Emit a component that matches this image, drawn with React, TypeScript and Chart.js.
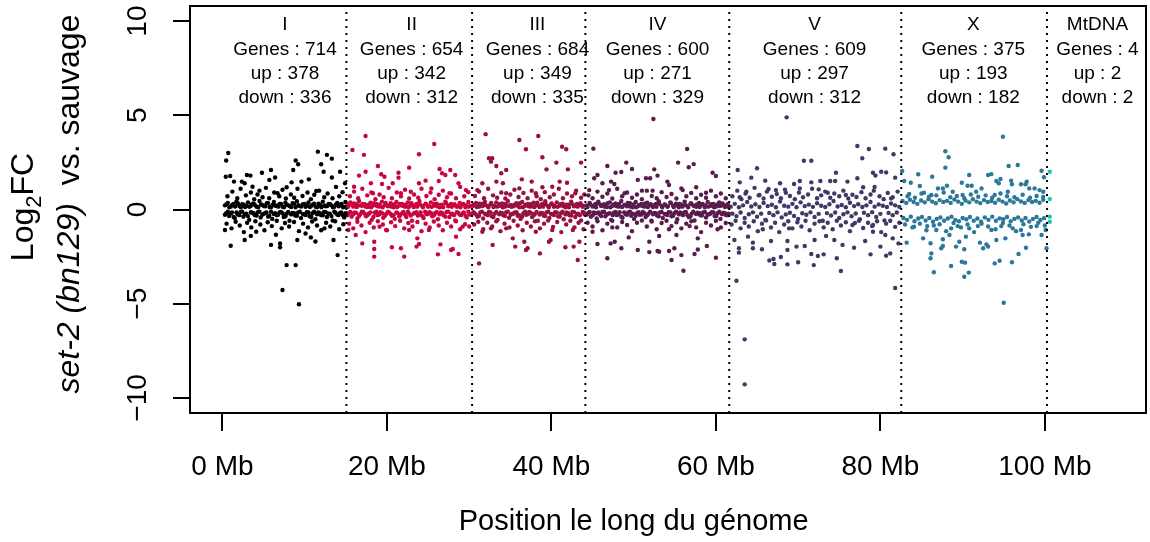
import React, { useEffect, useRef } from 'react';
import { Chart, registerables } from 'chart.js';

Chart.register(...registerables);

const FONT = '"Liberation Sans", Arial, Helvetica, sans-serif';

// ---- chromosome annotations ----
const CHR_NAMES = ['I', 'II', 'III', 'IV', 'V', 'X', 'MtDNA'];
const CHR_ENDS = [15.07, 30.35, 44.13, 61.62, 82.54, 100.26];
const LABEL_POS = [7.6, 23.0, 38.3, 52.9, 72.0, 91.3, 106.4];
const GENES = [714, 654, 684, 600, 609, 375, 4];
const UP = [378, 342, 349, 271, 297, 193, 2];
const DOWN = [336, 312, 335, 329, 312, 182, 2];
const COLORS = ['#000000', '#C8063E', '#981041', '#581B4C', '#3D3A66', '#2B7898', '#1DC6B2'];
const ANNOT_Y = [9.53, 8.2, 6.93, 5.65];

// ---- axes ----
const X_TICKS = [0, 20, 40, 60, 80, 100];
const Y_TICKS = [-10, -5, 0, 5, 10];
const X_MIN = -3.95;
const X_MAX = 112.3;
const Y_MIN = -10.8;
const Y_MAX = 10.8;
const X_TITLE = 'Position le long du génome';

// ---- points: [position (Mb), log2FC] ----
const CHR_I: [number, number][] = [
  [0.7, 3.0], [0.45, 2.6], [11.6, 3.07], [12.7, 2.9], [13.3, 2.7], [8.9, 2.6], [9.2, 2.4], [12.0, 2.4], [12.3, 2.0], [8.6, 2.1],
  [5.9, 2.1], [4.8, 1.95], [2.97, 1.83], [3.4, 1.8], [0.94, 1.78], [0.4, 1.74], [6.4, 1.7], [5.7, 1.57], [1.4, 1.48], [2.36, 1.48],
  [2.7, 1.39], [3.65, 1.21], [10.5, 1.6], [9.6, 1.48], [8.4, 1.44], [7.8, 1.18], [13.3, 1.7], [14.3, 2.0], [14.9, 1.39], [11.4, 0.98],
  [6.7, 0.86], [4.5, 1.0],
  [0.3, -1.09], [1.0, -1.92], [5.9, -1.88], [7.0, -1.8], [7.0, -2.0], [7.8, -2.95], [8.9, -2.95], [7.3, -4.27], [9.3, -5.03], [9.1, -1.62],
  [13.5, -1.62], [11.3, -1.7], [14.0, -2.42], [2.7, -1.62], [3.45, -1.4], [4.1, -1.18], [6.5, -1.34], [10.1, -1.27], [12.4, -1.0], [10.75, -1.48],
  [0.6, 0.7], [1.2, 0.95], [1.8, 0.6], [2.2, 1.1], [2.85, 0.75], [3.45, 0.9], [3.86, 0.55], [4.26, 0.8], [4.87, 0.65], [5.28, 1.15],
  [5.68, 0.6], [6.29, 0.9], [6.9, 0.7], [7.3, 1.05], [7.71, 0.58], [8.32, 0.8], [8.72, 0.62], [9.12, 1.1], [9.73, 0.72], [10.34, 0.9],
  [10.75, 0.55], [11.16, 0.78], [11.76, 1.0], [12.37, 0.65], [12.78, 0.85], [13.38, 0.6], [13.8, 1.2], [14.2, 0.7], [14.6, 0.92],
  [0.5, -0.75], [1.1, -1.0], [1.6, -0.65], [2.1, -0.85], [2.6, -1.2], [3.0, -0.7], [3.5, -0.95], [4.0, -0.62], [4.6, -0.8], [5.1, -1.1],
  [5.5, -0.68], [6.0, -0.88], [6.6, -0.6], [7.2, -1.0], [7.6, -0.72], [8.1, -0.9], [8.7, -0.66], [9.3, -1.15], [9.8, -0.75], [10.4, -0.95],
  [10.9, -0.64], [11.5, -0.85], [12.0, -1.1], [12.6, -0.7], [13.1, -0.9], [13.7, -0.62], [14.2, -1.05], [14.7, -0.78],
  [0.3, 0.22], [0.65, 0.35], [1.0, 0.15], [1.35, 0.3], [1.7, 0.42], [2.05, 0.18], [2.4, 0.28], [2.75, 0.13], [3.1, 0.38], [3.45, 0.2],
  [3.8, 0.32], [4.15, 0.15], [4.5, 0.45], [4.85, 0.24], [5.2, 0.17], [5.55, 0.34], [5.9, 0.12], [6.25, 0.4], [6.6, 0.2], [6.95, 0.3],
  [7.3, 0.15], [7.65, 0.36], [8.0, 0.22], [8.35, 0.13], [8.7, 0.3], [9.05, 0.44], [9.4, 0.18], [9.75, 0.27], [10.1, 0.14], [10.45, 0.38],
  [10.8, 0.2], [11.15, 0.31], [11.5, 0.12], [11.85, 0.25], [12.2, 0.42], [12.55, 0.17], [12.9, 0.3], [13.25, 0.22], [13.6, 0.14], [13.95, 0.35],
  [14.3, 0.25], [14.65, 0.12], [14.95, 0.4],
  [0.45, -0.2], [0.8, -0.35], [1.15, -0.15], [1.5, -0.45], [1.85, -0.25], [2.2, -0.13], [2.55, -0.38], [2.9, -0.22], [3.25, -0.55], [3.6, -0.17],
  [3.95, -0.3], [4.3, -0.14], [4.65, -0.42], [5.0, -0.24], [5.35, -0.16], [5.7, -0.33], [6.05, -0.5], [6.4, -0.2], [6.75, -0.28], [7.1, -0.13],
  [7.45, -0.4], [7.8, -0.22], [8.15, -0.6], [8.5, -0.18], [8.85, -0.32], [9.2, -0.15], [9.55, -0.45], [9.9, -0.25], [10.25, -0.14], [10.6, -0.36],
  [10.95, -0.2], [11.3, -0.52], [11.65, -0.16], [12.0, -0.3], [12.35, -0.13], [12.7, -0.4], [13.05, -0.22], [13.4, -0.58], [13.75, -0.17], [14.1, -0.3],
  [14.45, -0.15], [14.8, -0.42],
];

const BAND_I: [number, number][] = [
  [0.48, 0.28], [0.83, 0.12], [1.18, 0.24], [1.53, 0.16], [1.88, 0.32], [2.23, 0.12], [2.58, 0.26], [2.93, 0.19], [3.28, 0.14], [3.63, 0.3],
  [3.98, 0.22], [4.33, 0.12], [4.68, 0.27], [5.03, 0.18], [5.38, 0.33], [5.73, 0.13], [6.08, 0.24], [6.43, 0.2], [6.78, 0.15], [7.13, 0.29],
  [7.48, 0.12], [7.83, 0.25], [8.18, 0.18], [8.53, 0.34], [8.88, 0.12], [9.23, 0.23], [9.58, 0.16], [9.93, 0.3], [10.28, 0.2], [10.63, 0.13],
  [10.98, 0.26], [11.33, 0.15], [11.68, 0.31], [12.03, 0.12], [12.38, 0.22], [12.73, 0.18], [13.08, 0.28], [13.43, 0.12], [13.78, 0.25], [14.13, 0.17],
  [14.48, 0.3], [14.83, 0.14],
  [0.3, -0.28], [0.65, -0.12], [1.0, -0.22], [1.35, -0.4], [1.7, -0.16], [2.05, -0.3], [2.4, -0.12], [2.75, -0.25], [3.1, -0.35], [3.45, -0.14],
  [3.8, -0.2], [4.15, -0.32], [4.5, -0.12], [4.85, -0.27], [5.2, -0.18], [5.55, -0.38], [5.9, -0.12], [6.25, -0.24], [6.6, -0.3], [6.95, -0.15],
  [7.3, -0.2], [7.65, -0.36], [8.0, -0.13], [8.35, -0.26], [8.7, -0.19], [9.05, -0.33], [9.4, -0.12], [9.75, -0.23], [10.1, -0.29], [10.45, -0.16],
  [10.8, -0.4], [11.15, -0.12], [11.5, -0.25], [11.85, -0.2], [12.2, -0.31], [12.55, -0.14], [12.9, -0.22], [13.25, -0.35], [13.6, -0.12], [13.95, -0.27],
  [14.3, -0.18], [14.65, -0.3], [14.98, -0.2],
];

const CHR_II: [number, number][] = [
  [17.4, 3.9], [15.8, 3.16], [17.2, 2.9], [25.75, 3.48], [23.9, 2.93], [18.9, 2.31], [22.7, 2.22], [19.3, 1.87], [19.7, 1.74], [17.4, 2.0],
  [16.6, 1.8], [21.4, 1.95], [21.4, 1.69], [26.4, 2.15], [27.7, 2.1], [26.7, 1.92], [27.1, 1.83], [28.3, 1.83], [24.7, 1.53], [23.9, 1.39],
  [26.3, 1.51], [28.7, 1.39], [19.4, 1.35], [20.7, 1.39], [18.05, 1.39], [16.0, 1.21], [22.9, 0.94], [25.4, 1.12], [29.6, 1.03], [27.6, 0.86],
  [18.3, 0.86], [21.7, 0.86],
  [18.45, -1.71], [18.45, -2.1], [18.45, -2.5], [20.6, -2.0], [21.7, -2.06], [22.1, -2.5], [23.7, -1.53], [23.9, -1.83], [26.2, -2.38], [27.8, -2.15],
  [28.0, -2.1], [26.5, -1.85], [17.0, -1.8], [16.2, -1.35], [19.9, -1.09], [19.1, -0.91], [22.7, -1.09], [25.1, -1.09], [29.2, -0.91], [28.4, -1.44],
  [23.6, -1.97], [28.7, -2.36], [15.3, -1.09],
  [15.5, 0.7], [16.0, 0.95], [16.5, 0.6], [17.0, 1.1], [17.6, 0.75], [18.1, 0.9], [18.6, 0.55], [19.1, 0.8], [19.6, 0.65], [20.2, 1.15],
  [20.6, 0.6], [21.2, 0.9], [21.7, 0.7], [22.2, 1.05], [22.7, 0.58], [23.3, 0.8], [23.8, 0.62], [24.2, 1.1], [24.8, 0.72], [25.3, 0.9],
  [25.8, 0.55], [26.3, 0.78], [26.8, 1.0], [27.3, 0.65], [27.8, 0.85], [28.4, 0.6], [28.9, 1.2], [29.4, 0.7], [29.9, 0.92],
  [15.4, -0.75], [15.9, -1.0], [16.4, -0.65], [16.9, -0.85], [17.4, -1.2], [17.9, -0.7], [18.4, -0.95], [18.9, -0.62], [19.5, -0.8], [20.0, -1.1],
  [20.5, -0.68], [21.0, -0.88], [21.6, -0.6], [22.1, -1.0], [22.6, -0.72], [23.1, -0.9], [23.7, -0.66], [24.2, -1.15], [24.7, -0.75], [25.2, -0.95],
  [25.7, -0.64], [26.3, -0.85], [26.8, -1.1], [27.3, -0.7], [27.8, -0.9], [28.4, -0.62], [28.9, -1.05], [29.5, -0.78], [30.0, -0.9],
  [15.2, 0.25], [15.55, 0.38], [15.9, 0.15], [16.25, 0.3], [16.6, 0.45], [16.95, 0.2], [17.3, 0.28], [17.65, 0.13], [18.0, 0.36], [18.35, 0.22],
  [18.7, 0.3], [19.05, 0.15], [19.4, 0.42], [19.75, 0.24], [20.1, 0.17], [20.45, 0.33], [20.8, 0.12], [21.15, 0.4], [21.5, 0.21], [21.85, 0.3],
  [22.2, 0.14], [22.55, 0.37], [22.9, 0.22], [23.25, 0.13], [23.6, 0.3], [23.95, 0.45], [24.3, 0.18], [24.65, 0.27], [25.0, 0.14], [25.35, 0.38],
  [25.7, 0.2], [26.05, 0.31], [26.4, 0.12], [26.75, 0.25], [27.1, 0.42], [27.45, 0.17], [27.8, 0.3], [28.15, 0.22], [28.5, 0.14], [28.85, 0.35],
  [29.2, 0.25], [29.55, 0.12], [29.9, 0.4], [30.2, 0.2],
  [15.35, -0.2], [15.7, -0.38], [16.05, -0.15], [16.4, -0.48], [16.75, -0.25], [17.1, -0.13], [17.45, -0.36], [17.8, -0.22], [18.15, -0.55], [18.5, -0.17],
  [18.85, -0.3], [19.2, -0.14], [19.55, -0.44], [19.9, -0.24], [20.25, -0.16], [20.6, -0.33], [20.95, -0.5], [21.3, -0.2], [21.65, -0.28], [22.0, -0.13],
  [22.35, -0.4], [22.7, -0.22], [23.05, -0.6], [23.4, -0.18], [23.75, -0.32], [24.1, -0.15], [24.45, -0.45], [24.8, -0.25], [25.15, -0.14], [25.5, -0.36],
  [25.85, -0.2], [26.2, -0.52], [26.55, -0.16], [26.9, -0.3], [27.25, -0.13], [27.6, -0.4], [27.95, -0.22], [28.3, -0.58], [28.65, -0.17], [29.0, -0.3],
  [29.35, -0.15], [29.7, -0.42], [30.05, -0.25],
];

const BAND_II: [number, number][] = [
  [15.28, 0.14], [15.63, 0.26], [15.98, 0.32], [16.33, 0.13], [16.68, 0.22], [17.03, 0.3], [17.38, 0.16], [17.73, 0.25], [18.08, 0.12], [18.43, 0.33],
  [18.78, 0.18], [19.13, 0.27], [19.48, 0.12], [19.83, 0.35], [20.18, 0.21], [20.53, 0.15], [20.88, 0.28], [21.23, 0.13], [21.58, 0.3], [21.93, 0.19],
  [22.28, 0.25], [22.63, 0.12], [22.98, 0.34], [23.33, 0.22], [23.68, 0.15], [24.03, 0.27], [24.38, 0.12], [24.73, 0.31], [25.08, 0.2], [25.43, 0.14],
  [25.78, 0.29], [26.13, 0.17], [26.48, 0.24], [26.83, 0.12], [27.18, 0.33], [27.53, 0.21], [27.88, 0.14], [28.23, 0.28], [28.58, 0.19], [28.93, 0.12],
  [29.28, 0.3], [29.63, 0.22], [29.98, 0.15],
  [15.2, -0.3], [15.55, -0.13], [15.9, -0.25], [16.25, -0.18], [16.6, -0.34], [16.95, -0.12], [17.3, -0.22], [17.65, -0.29], [18.0, -0.15], [18.35, -0.4],
  [18.7, -0.12], [19.05, -0.26], [19.4, -0.2], [19.75, -0.33], [20.1, -0.13], [20.45, -0.23], [20.8, -0.3], [21.15, -0.15], [21.5, -0.37], [21.85, -0.19],
  [22.2, -0.27], [22.55, -0.12], [22.9, -0.32], [23.25, -0.21], [23.6, -0.14], [23.95, -0.28], [24.3, -0.35], [24.65, -0.12], [25.0, -0.24], [25.35, -0.18],
  [25.7, -0.31], [26.05, -0.13], [26.4, -0.26], [26.75, -0.2], [27.1, -0.38], [27.45, -0.12], [27.8, -0.23], [28.15, -0.3], [28.5, -0.14], [28.85, -0.27],
  [29.2, -0.19], [29.55, -0.33], [29.9, -0.12], [30.25, -0.28],
];

const CHR_III: [number, number][] = [
  [32.0, 4.0], [36.1, 3.69], [38.4, 3.9], [36.9, 3.2], [41.3, 3.33], [41.8, 3.2], [32.4, 2.72], [32.8, 2.72], [32.65, 2.54], [38.9, 2.77],
  [40.6, 2.49], [43.6, 2.49], [33.3, 2.31], [34.5, 2.1], [33.9, 1.92], [39.4, 2.13], [42.0, 2.13], [36.4, 1.6], [37.6, 1.48], [33.3, 1.48],
  [34.1, 1.39], [41.0, 1.48], [41.9, 1.42], [38.9, 1.18], [40.1, 1.21], [31.6, 1.39], [31.0, 1.03], [36.1, 1.12], [42.9, 0.86], [38.1, 0.86],
  [34.5, 0.86],
  [31.2, -2.86], [32.85, -1.88], [32.65, -1.0], [31.6, -1.18], [35.3, -1.53], [36.7, -1.71], [37.1, -2.06], [35.6, -1.97], [36.9, -2.15], [38.6, -2.33],
  [39.7, -1.71], [41.7, -2.0], [42.7, -1.97], [43.2, -2.68], [39.9, -1.62], [40.1, -1.09], [42.6, -1.09], [38.1, -1.18], [34.5, -1.0], [43.4, -1.71],
  [30.7, 0.72], [31.2, 0.95], [31.8, 0.6], [32.3, 1.1], [32.9, 0.75], [33.4, 0.62], [33.9, 0.9], [34.4, 0.58], [35.0, 0.8], [35.5, 1.05],
  [36.0, 0.66], [36.6, 0.88], [37.1, 0.6], [37.6, 1.0], [38.2, 0.7], [38.7, 0.55], [39.2, 0.92], [39.8, 0.65], [40.3, 0.8], [40.9, 1.1],
  [41.4, 0.6], [41.9, 0.85], [42.5, 0.7], [43.0, 1.0], [43.6, 0.62], [44.0, 0.8],
  [30.6, -0.8], [31.1, -0.65], [31.7, -1.05], [32.2, -0.7], [32.8, -0.9], [33.3, -0.62], [33.8, -1.15], [34.3, -0.75], [34.9, -0.95], [35.4, -0.6],
  [35.9, -0.85], [36.5, -1.1], [37.0, -0.7], [37.5, -0.9], [38.0, -0.62], [38.6, -1.0], [39.1, -0.75], [39.6, -0.58], [40.2, -0.92], [40.7, -0.66],
  [41.2, -1.2], [41.8, -0.8], [42.3, -0.6], [42.8, -0.95], [43.3, -0.7], [43.9, -1.05],
  [30.5, 0.2], [30.85, 0.35], [31.2, 0.15], [31.55, 0.3], [31.9, 0.42], [32.25, 0.18], [32.6, 0.28], [32.95, 0.13], [33.3, 0.38], [33.65, 0.2],
  [34.0, 0.32], [34.35, 0.15], [34.7, 0.45], [35.05, 0.24], [35.4, 0.17], [35.75, 0.34], [36.1, 0.12], [36.45, 0.4], [36.8, 0.2], [37.15, 0.3],
  [37.5, 0.15], [37.85, 0.36], [38.2, 0.22], [38.55, 0.13], [38.9, 0.3], [39.25, 0.44], [39.6, 0.18], [39.95, 0.27], [40.3, 0.14], [40.65, 0.38],
  [41.0, 0.2], [41.35, 0.31], [41.7, 0.12], [42.05, 0.25], [42.4, 0.42], [42.75, 0.17], [43.1, 0.3], [43.45, 0.22], [43.8, 0.14],
  [30.65, -0.2], [31.0, -0.38], [31.35, -0.15], [31.7, -0.48], [32.05, -0.25], [32.4, -0.13], [32.75, -0.36], [33.1, -0.22], [33.45, -0.55], [33.8, -0.17],
  [34.15, -0.3], [34.5, -0.14], [34.85, -0.44], [35.2, -0.24], [35.55, -0.16], [35.9, -0.33], [36.25, -0.5], [36.6, -0.2], [36.95, -0.28], [37.3, -0.13],
  [37.65, -0.4], [38.0, -0.22], [38.35, -0.6], [38.7, -0.18], [39.05, -0.32], [39.4, -0.15], [39.75, -0.45], [40.1, -0.25], [40.45, -0.14], [40.8, -0.36],
  [41.15, -0.2], [41.5, -0.52], [41.85, -0.16], [42.2, -0.3], [42.55, -0.13], [42.9, -0.4], [43.25, -0.22], [43.6, -0.58], [43.95, -0.17],
];

const BAND_III: [number, number][] = [
  [30.58, 0.27], [30.93, 0.13], [31.28, 0.31], [31.63, 0.18], [31.98, 0.24], [32.33, 0.12], [32.68, 0.35], [33.03, 0.2], [33.38, 0.15], [33.73, 0.28],
  [34.08, 0.12], [34.43, 0.3], [34.78, 0.19], [35.13, 0.14], [35.48, 0.26], [35.83, 0.21], [36.18, 0.33], [36.53, 0.12], [36.88, 0.25], [37.23, 0.17],
  [37.58, 0.29], [37.93, 0.13], [38.28, 0.36], [38.63, 0.22], [38.98, 0.15], [39.33, 0.27], [39.68, 0.12], [40.03, 0.32], [40.38, 0.2], [40.73, 0.14],
  [41.08, 0.28], [41.43, 0.18], [41.78, 0.25], [42.13, 0.12], [42.48, 0.3], [42.83, 0.21], [43.18, 0.15], [43.53, 0.33], [43.88, 0.2],
  [30.5, -0.14], [30.85, -0.27], [31.2, -0.33], [31.55, -0.12], [31.9, -0.22], [32.25, -0.3], [32.6, -0.16], [32.95, -0.4], [33.3, -0.13], [33.65, -0.25],
  [34.0, -0.19], [34.35, -0.34], [34.7, -0.12], [35.05, -0.28], [35.4, -0.21], [35.75, -0.14], [36.1, -0.3], [36.45, -0.37], [36.8, -0.12], [37.15, -0.24],
  [37.5, -0.18], [37.85, -0.31], [38.2, -0.13], [38.55, -0.27], [38.9, -0.2], [39.25, -0.35], [39.6, -0.12], [39.95, -0.23], [40.3, -0.29], [40.65, -0.15],
  [41.0, -0.38], [41.35, -0.12], [41.7, -0.26], [42.05, -0.19], [42.4, -0.32], [42.75, -0.14], [43.1, -0.24], [43.45, -0.3], [43.8, -0.13], [44.05, -0.26],
];

const CHR_IV: [number, number][] = [
  [52.4, 4.8], [45.1, 3.23], [56.5, 3.21], [49.1, 2.49], [55.4, 2.49], [57.3, 2.41], [46.8, 2.31], [49.8, 2.15], [52.5, 2.13], [56.7, 2.24],
  [59.6, 1.95], [60.0, 1.78], [45.2, 1.66], [45.6, 1.83], [47.8, 1.95], [48.5, 1.99], [51.5, 1.66], [52.0, 1.66], [52.9, 1.8], [50.5, 1.57],
  [47.25, 1.48], [47.65, 1.35], [46.2, 1.39], [54.1, 1.48], [54.3, 1.3], [57.6, 1.18], [47.0, 1.03], [51.0, 1.0], [52.3, 1.0], [55.96, 1.03],
  [58.8, 0.89], [48.9, 0.86], [44.6, 1.03],
  [46.8, -2.59], [56.05, -3.25], [50.5, -2.15], [51.9, -2.26], [52.9, -2.2], [54.3, -2.2], [55.8, -2.42], [57.4, -2.36], [60.0, -2.56], [48.5, -2.06],
  [47.2, -1.8], [45.6, -1.83], [49.4, -1.48], [53.1, -1.41], [55.2, -1.35], [57.8, -1.53], [58.9, -1.94], [51.9, -1.71], [47.4, -0.95], [60.2, -1.05],
  [45.0, -1.18], [54.3, -1.05], [56.8, -0.88], [47.7, -1.71], [54.95, -2.06], [54.6, -2.68], [57.8, -2.12], [53.1, -2.24],
  [44.5, 0.75], [45.0, 0.6], [45.6, 0.95], [46.2, 0.68], [46.8, 0.85], [47.4, 0.58], [48.0, 1.1], [48.6, 0.7], [49.2, 0.9], [49.8, 0.62],
  [50.4, 0.8], [51.0, 0.55], [51.6, 1.0], [52.2, 0.72], [52.8, 0.6], [53.4, 0.92], [54.0, 0.66], [54.6, 0.82], [55.2, 0.58], [55.8, 1.12],
  [56.4, 0.7], [57.0, 0.88], [57.6, 0.6], [58.2, 0.78], [58.8, 0.62], [59.4, 1.0], [60.0, 0.7], [60.6, 0.85], [61.2, 0.6],
  [44.4, -0.7], [45.0, -0.9], [45.6, -0.62], [46.2, -1.1], [46.8, -0.75], [47.4, -0.6], [48.0, -0.95], [48.6, -0.66], [49.2, -0.82], [49.8, -1.15],
  [50.4, -0.7], [51.0, -0.58], [51.6, -0.9], [52.2, -0.64], [52.8, -1.05], [53.4, -0.72], [54.0, -0.6], [54.6, -0.88], [55.2, -0.68], [55.8, -1.0],
  [56.4, -0.75], [57.0, -0.62], [57.6, -0.95], [58.2, -1.2], [58.8, -0.7], [59.4, -0.85], [60.0, -0.6], [60.6, -0.95], [61.2, -0.72],
  [44.3, 0.22], [44.65, 0.35], [45.0, 0.15], [45.35, 0.3], [45.7, 0.42], [46.05, 0.18], [46.4, 0.28], [46.75, 0.13], [47.1, 0.38], [47.45, 0.2],
  [47.8, 0.32], [48.15, 0.15], [48.5, 0.45], [48.85, 0.24], [49.2, 0.17], [49.55, 0.34], [49.9, 0.12], [50.25, 0.4], [50.6, 0.2], [50.95, 0.3],
  [51.3, 0.15], [51.65, 0.36], [52.0, 0.22], [52.35, 0.13], [52.7, 0.3], [53.05, 0.44], [53.4, 0.18], [53.75, 0.27], [54.1, 0.14], [54.45, 0.38],
  [54.8, 0.2], [55.15, 0.31], [55.5, 0.12], [55.85, 0.25], [56.2, 0.42], [56.55, 0.17], [56.9, 0.3], [57.25, 0.22], [57.6, 0.14], [57.95, 0.35],
  [58.3, 0.25], [58.65, 0.12], [59.0, 0.4], [59.35, 0.2], [59.7, 0.3], [60.05, 0.16], [60.4, 0.38], [60.75, 0.22], [61.1, 0.13], [61.45, 0.3],
  [44.45, -0.2], [44.8, -0.38], [45.15, -0.15], [45.5, -0.48], [45.85, -0.25], [46.2, -0.13], [46.55, -0.36], [46.9, -0.22], [47.25, -0.55], [47.6, -0.17],
  [47.95, -0.3], [48.3, -0.14], [48.65, -0.44], [49.0, -0.24], [49.35, -0.16], [49.7, -0.33], [50.05, -0.5], [50.4, -0.2], [50.75, -0.28], [51.1, -0.13],
  [51.45, -0.4], [51.8, -0.22], [52.15, -0.6], [52.5, -0.18], [52.85, -0.32], [53.2, -0.15], [53.55, -0.45], [53.9, -0.25], [54.25, -0.14], [54.6, -0.36],
  [54.95, -0.2], [55.3, -0.52], [55.65, -0.16], [56.0, -0.3], [56.35, -0.13], [56.7, -0.4], [57.05, -0.22], [57.4, -0.58], [57.75, -0.17], [58.1, -0.3],
  [58.45, -0.15], [58.8, -0.42], [59.15, -0.25], [59.5, -0.14], [59.85, -0.35], [60.2, -0.2], [60.55, -0.5], [60.9, -0.17], [61.25, -0.3], [61.55, -0.22],
];

const BAND_IV: [number, number][] = [
  [44.38, 0.13], [44.73, 0.27], [45.08, 0.2], [45.43, 0.12], [45.78, 0.31], [46.13, 0.24], [46.48, 0.15], [46.83, 0.33], [47.18, 0.12], [47.53, 0.26],
  [47.88, 0.18], [48.23, 0.3], [48.58, 0.13], [48.93, 0.22], [49.28, 0.35], [49.63, 0.15], [49.98, 0.27], [50.33, 0.12], [50.68, 0.24], [51.03, 0.19],
  [51.38, 0.32], [51.73, 0.13], [52.08, 0.28], [52.43, 0.21], [52.78, 0.14], [53.13, 0.3], [53.48, 0.12], [53.83, 0.25], [54.18, 0.18], [54.53, 0.34],
  [54.88, 0.13], [55.23, 0.22], [55.58, 0.29], [55.93, 0.15], [56.28, 0.24], [56.63, 0.12], [56.98, 0.33], [57.33, 0.19], [57.68, 0.27], [58.03, 0.13],
  [58.38, 0.3], [58.73, 0.21], [59.08, 0.15], [59.43, 0.28], [59.78, 0.12], [60.13, 0.25], [60.48, 0.18], [60.83, 0.32], [61.18, 0.2], [61.5, 0.14],
  [44.3, -0.27], [44.65, -0.13], [45.0, -0.31], [45.35, -0.2], [45.7, -0.15], [46.05, -0.35], [46.4, -0.12], [46.75, -0.26], [47.1, -0.19], [47.45, -0.3],
  [47.8, -0.13], [48.15, -0.24], [48.5, -0.38], [48.85, -0.15], [49.2, -0.28], [49.55, -0.12], [49.9, -0.22], [50.25, -0.33], [50.6, -0.14], [50.95, -0.27],
  [51.3, -0.19], [51.65, -0.31], [52.0, -0.12], [52.35, -0.25], [52.7, -0.2], [53.05, -0.36], [53.4, -0.13], [53.75, -0.23], [54.1, -0.29], [54.45, -0.15],
  [54.8, -0.33], [55.15, -0.12], [55.5, -0.26], [55.85, -0.2], [56.2, -0.14], [56.55, -0.3], [56.9, -0.37], [57.25, -0.12], [57.6, -0.24], [57.95, -0.18],
  [58.3, -0.32], [58.65, -0.13], [59.0, -0.27], [59.35, -0.21], [59.7, -0.15], [60.05, -0.34], [60.4, -0.12], [60.75, -0.25], [61.1, -0.19], [61.45, -0.3],
];

const CHR_V: [number, number][] = [
  [68.6, 4.89], [77.2, 3.37], [78.6, 3.21], [80.6, 3.23], [77.8, 2.72], [81.6, 2.93], [70.7, 2.59], [71.6, 2.59], [62.65, 2.1], [65.0, 2.19],
  [64.3, 1.69], [66.0, 1.53], [74.6, 1.95], [79.1, 1.95], [80.1, 2.0], [80.7, 1.97], [79.4, 1.8], [77.2, 1.66], [70.2, 1.51], [71.6, 1.44],
  [73.9, 1.51], [74.5, 1.51], [72.7, 1.51], [76.0, 1.48], [81.8, 1.69], [62.9, 1.44], [67.8, 1.39], [69.5, 1.35], [70.2, 1.12], [77.9, 1.18],
  [66.4, 1.09], [67.3, 1.03], [68.5, 0.89], [72.5, 1.07], [63.7, 0.94], [79.2, 1.0], [81.3, 0.59], [75.8, 0.77], [65.3, 0.77], [62.9, 0.65],
  [73.6, 0.89],
  [63.5, -6.89], [63.5, -9.28], [62.5, -3.78], [81.8, -4.17], [75.2, -3.26], [66.5, -2.71], [67.0, -2.63], [67.1, -2.89], [67.9, -2.52], [68.7, -2.91],
  [70.0, -2.8], [71.9, -2.95], [71.6, -2.36], [72.4, -2.47], [73.1, -2.38], [74.7, -2.59], [80.7, -2.45], [81.2, -2.33], [78.8, -2.38], [62.8, -2.29],
  [62.8, -2.06], [64.5, -2.06], [65.6, -2.11], [68.7, -2.15], [69.8, -1.97], [68.7, -1.67], [66.7, -1.67], [62.25, -1.62], [64.5, -1.76], [74.4, -1.62],
  [75.4, -1.88], [76.8, -2.03], [78.15, -1.67], [80.0, -1.97], [81.5, -1.53], [82.2, -1.8], [70.8, -1.94], [72.0, -1.62], [63.9, -1.44], [65.7, -1.05],
  [68.9, -1.0], [73.4, -1.41], [76.6, -0.82], [79.1, -0.82], [79.1, -1.18], [80.6, -1.35],
  [62.0, 0.7], [62.6, 1.0], [63.1, 0.55], [63.6, 0.85], [64.1, 0.62], [64.7, 1.15], [65.2, 0.75], [65.8, 0.58], [66.2, 0.95], [66.8, 0.68],
  [67.4, 0.82], [67.9, 0.6], [68.4, 1.05], [69.0, 0.72], [69.6, 0.55], [70.1, 0.9], [70.6, 0.65], [71.2, 0.8], [71.7, 1.1], [72.3, 0.6],
  [72.8, 0.75], [73.3, 0.95], [73.9, 0.62], [74.4, 0.85], [75.0, 0.7], [75.5, 1.0], [76.1, 0.58], [76.6, 0.78], [77.1, 0.66], [77.7, 0.92],
  [78.2, 0.6], [78.8, 0.8], [79.3, 1.2], [79.9, 0.7], [80.4, 0.55], [80.9, 0.88], [81.5, 0.65], [82.1, 0.95],
  [61.9, -0.8], [62.4, -0.6], [63.0, -1.0], [63.5, -0.7], [64.0, -0.9], [64.6, -0.62], [65.1, -1.15], [65.6, -0.75], [66.1, -0.58], [66.7, -0.95],
  [67.2, -0.7], [67.7, -1.2], [68.3, -0.8], [68.8, -0.62], [69.3, -1.0], [69.9, -0.68], [70.4, -0.9], [70.9, -0.6], [71.4, -1.1], [72.0, -0.75],
  [72.6, -0.62], [73.1, -0.95], [73.6, -0.7], [74.2, -1.05], [74.7, -0.6], [75.2, -0.85], [75.8, -0.68], [76.3, -1.15], [76.9, -0.72], [77.4, -0.6],
  [77.9, -0.98], [78.5, -0.7], [79.0, -0.88], [79.6, -0.62], [80.1, -1.2], [80.7, -0.75], [81.2, -0.6], [81.8, -0.92], [82.3, -0.7],
  [61.8, 0.15], [62.3, 0.3], [62.8, 0.12], [63.3, 0.22], [63.8, 0.4], [64.3, 0.16], [64.8, 0.28], [65.3, 0.13], [65.8, 0.35], [66.3, 0.18],
  [66.8, 0.25], [67.3, 0.12], [67.8, 0.42], [68.3, 0.2], [68.8, 0.15], [69.3, 0.3], [69.8, 0.12], [70.3, 0.38], [70.8, 0.18], [71.3, 0.26],
  [71.8, 0.14], [72.3, 0.33], [72.8, 0.2], [73.3, 0.13], [73.8, 0.28], [74.3, 0.45], [74.8, 0.16], [75.3, 0.24], [75.8, 0.12], [76.3, 0.36],
  [76.8, 0.18], [77.3, 0.28], [77.8, 0.13], [78.3, 0.22], [78.8, 0.4], [79.3, 0.15], [79.8, 0.27], [80.3, 0.2], [80.8, 0.13], [81.3, 0.32],
  [81.8, 0.22], [82.3, 0.14],
  [62.0, -0.22], [62.5, -0.35], [63.0, -0.16], [63.5, -0.45], [64.0, -0.25], [64.5, -0.15], [65.0, -0.38], [65.5, -0.22], [66.0, -0.55], [66.5, -0.18],
  [67.0, -0.3], [67.5, -0.15], [68.0, -0.42], [68.5, -0.26], [69.0, -0.17], [69.5, -0.34], [70.0, -0.5], [70.5, -0.2], [71.0, -0.28], [71.5, -0.15],
  [72.0, -0.4], [72.5, -0.23], [73.0, -0.6], [73.5, -0.19], [74.0, -0.32], [74.5, -0.16], [75.0, -0.45], [75.5, -0.25], [76.0, -0.15], [76.5, -0.36],
  [77.0, -0.21], [77.5, -0.52], [78.0, -0.17], [78.5, -0.3], [79.0, -0.14], [79.5, -0.4], [80.0, -0.23], [80.5, -0.58], [81.0, -0.18], [81.5, -0.3],
  [82.0, -0.16],
];

const CHR_X: [number, number][] = [
  [94.9, 3.86], [87.9, 3.09], [88.3, 2.77], [87.9, 2.22], [95.6, 2.31], [96.7, 2.36], [99.6, 2.06], [82.65, 2.04], [84.6, 1.87], [86.3, 1.74],
  [90.8, 1.83], [93.1, 1.83], [93.5, 1.88], [99.9, 1.71], [94.1, 1.51], [94.6, 1.62], [95.9, 1.53], [97.8, 1.48], [82.9, 1.51], [83.7, 1.42],
  [84.8, 1.25], [87.0, 1.12], [87.6, 1.12], [88.1, 1.26], [89.9, 1.42], [90.6, 1.26], [91.1, 1.26], [92.3, 1.12], [94.4, 1.39], [96.0, 1.34],
  [97.1, 1.34], [97.65, 1.34], [98.75, 1.12], [99.35, 1.03], [85.3, 0.89], [88.8, 0.94], [91.65, 0.94], [95.5, 0.94], [98.1, 1.12], [83.5, 0.82],
  [86.2, 0.77], [90.0, 0.77], [93.9, 0.77], [99.8, 0.94],
  [95.0, -4.95], [86.5, -3.33], [90.2, -3.57], [90.75, -3.35], [88.6, -3.0], [89.9, -2.77], [90.3, -2.82], [93.9, -2.86], [94.5, -2.72], [96.0, -2.8],
  [96.8, -2.36], [86.1, -2.59], [86.2, -2.33], [87.4, -2.06], [87.6, -1.94], [89.2, -1.97], [90.2, -2.11], [92.5, -2.06], [93.1, -1.97], [97.7, -2.03],
  [100.2, -2.06], [83.2, -1.76], [85.2, -1.53], [86.1, -1.79], [89.6, -1.71], [92.1, -1.76], [92.9, -1.85], [94.1, -1.62], [95.2, -1.53], [97.3, -1.35],
  [98.05, -1.32], [99.6, -1.35], [90.4, -1.44], [88.4, -1.35], [87.6, -1.58], [84.1, -0.91], [85.7, -0.88], [86.8, -1.09], [88.6, -1.0], [89.4, -0.88],
  [90.8, -1.0], [91.85, -0.88], [93.5, -1.09], [94.7, -0.88], [96.1, -1.0], [97.1, -1.09], [99.0, -0.88], [100.1, -1.09],
  [83.0, -0.8], [83.9, -0.95], [84.8, -0.75], [85.6, -1.1], [86.5, -0.85], [87.2, -0.78], [88.0, -1.15], [88.9, -0.72], [89.8, -0.95], [90.6, -0.8],
  [91.4, -1.2], [92.3, -0.75], [93.1, -0.9], [94.0, -1.05], [94.9, -0.72], [95.7, -0.85], [96.5, -1.15], [97.4, -0.78], [98.3, -0.92], [99.2, -0.7],
  [100.0, -0.85],
  [83.3, 0.7], [84.2, 0.62], [85.0, 0.85], [85.9, 0.68], [86.8, 0.75], [87.7, 0.9], [88.5, 0.65], [89.3, 0.72], [90.2, 0.6], [91.0, 0.8],
  [91.9, 0.68], [92.8, 0.75], [93.6, 0.62], [94.6, 0.85], [95.4, 0.7], [96.3, 0.65], [97.3, 0.78], [98.2, 0.62], [99.0, 0.72], [99.8, 0.66],
  [82.7, 0.45], [83.15, 0.35], [83.6, 0.52], [84.05, 0.4], [84.5, 0.3], [84.95, 0.48], [85.4, 0.38], [85.85, 0.55], [86.3, 0.42], [86.75, 0.33],
  [87.2, 0.5], [87.65, 0.4], [88.1, 0.46], [88.55, 0.35], [89.0, 0.53], [89.45, 0.42], [89.9, 0.3], [90.35, 0.48], [90.8, 0.38], [91.25, 0.55],
  [91.7, 0.42], [92.15, 0.34], [92.6, 0.5], [93.05, 0.4], [93.5, 0.45], [93.95, 0.36], [94.4, 0.52], [94.85, 0.42], [95.3, 0.32], [95.75, 0.48],
  [96.2, 0.38], [96.65, 0.55], [97.1, 0.43], [97.55, 0.35], [98.0, 0.5], [98.45, 0.4], [98.9, 0.46], [99.35, 0.36], [99.8, 0.52],
  [82.8, -0.45], [83.25, -0.55], [83.7, -0.38], [84.15, -0.62], [84.6, -0.48], [85.05, -0.4], [85.5, -0.58], [85.95, -0.45], [86.4, -0.65], [86.85, -0.5],
  [87.3, -0.42], [87.75, -0.6], [88.2, -0.48], [88.65, -0.38], [89.1, -0.55], [89.55, -0.62], [90.0, -0.45], [90.45, -0.52], [90.9, -0.4], [91.35, -0.6],
  [91.8, -0.48], [92.25, -0.65], [92.7, -0.42], [93.15, -0.55], [93.6, -0.38], [94.05, -0.6], [94.5, -0.47], [94.95, -0.52], [95.4, -0.4], [95.85, -0.62],
  [96.3, -0.5], [96.75, -0.42], [97.2, -0.58], [97.65, -0.45], [98.1, -0.64], [98.55, -0.5], [99.0, -0.4], [99.45, -0.56], [99.9, -0.46],
];

const CHR_MT: [number, number][] = [
  [100.6, 2.0], [100.6, 0.56], [100.6, -0.38], [100.6, -0.65],
];

const CHR_DATA = [
  [...CHR_I, ...BAND_I],
  [...CHR_II, ...BAND_II],
  [...CHR_III, ...BAND_III],
  [...CHR_IV, ...BAND_IV],
  CHR_V,
  CHR_X,
  CHR_MT,
];

type Run = { text: string; font: string; dy?: number };

function drawRotatedRuns(ctx: CanvasRenderingContext2D, runs: Run[], baselineX: number, centerY: number) {
  ctx.save();
  ctx.translate(baselineX, centerY);
  ctx.rotate(-Math.PI / 2);
  ctx.textAlign = 'left';
  ctx.textBaseline = 'alphabetic';
  let total = 0;
  runs.forEach((r) => {
    ctx.font = r.font;
    total += ctx.measureText(r.text).width;
  });
  let pos = -total / 2;
  runs.forEach((r) => {
    ctx.font = r.font;
    ctx.fillText(r.text, pos, r.dy || 0);
    pos += ctx.measureText(r.text).width;
  });
  ctx.restore();
}

const overlayPlugin = {
  id: 'overlay',
  afterDatasetsDraw(chart: any) {
    const { ctx, chartArea: a, scales } = chart;
    const xs = scales.x;
    const ys = scales.y;
    ctx.save();
    ctx.strokeStyle = '#000';
    ctx.lineWidth = 2;
    ctx.setLineDash([]);
    ctx.strokeRect(a.left, a.top, a.right - a.left, a.bottom - a.top);
    ctx.fillStyle = '#000';
    ctx.font = `19px ${FONT}`;
    ctx.textAlign = 'center';
    ctx.textBaseline = 'alphabetic';
    CHR_NAMES.forEach((name, i) => {
      const px = xs.getPixelForValue(LABEL_POS[i]);
      ctx.fillText(name, px, ys.getPixelForValue(ANNOT_Y[0]));
      ctx.fillText(`Genes : ${GENES[i]}`, px, ys.getPixelForValue(ANNOT_Y[1]));
      ctx.fillText(`up : ${UP[i]}`, px, ys.getPixelForValue(ANNOT_Y[2]));
      ctx.fillText(`down : ${DOWN[i]}`, px, ys.getPixelForValue(ANNOT_Y[3]));
    });
    ctx.font = `29px ${FONT}`;
    ctx.fillText(X_TITLE, xs.getPixelForValue(50), 530);
    drawRotatedRuns(ctx, [
      { text: 'Log', font: `32px ${FONT}` },
      { text: '2', font: `22px ${FONT}`, dy: 8 },
      { text: 'FC', font: `32px ${FONT}` },
    ], 33, 207);
    drawRotatedRuns(ctx, [
      { text: 'set-2 (bn129)', font: `italic 32px ${FONT}` },
      { text: '  vs. sauvage', font: `32px ${FONT}` },
    ], 79, 204);
    ctx.restore();
  },
};

export default function App() {
  const canvasRef = useRef<HTMLCanvasElement | null>(null);

  useEffect(() => {
    const canvas = canvasRef.current;
    if (!canvas) return;
    const datasets: any[] = [];
    CHR_DATA.forEach((pts, i) => {
      datasets.push({
        type: 'scatter',
        label: CHR_NAMES[i],
        data: pts.map(([x, y]) => ({ x, y })),
        pointRadius: 2.2,
        pointBackgroundColor: COLORS[i],
        pointBorderWidth: 0,
        borderColor: COLORS[i],
        showLine: false,
        order: 2,
      });
    });
    CHR_ENDS.forEach((b) => {
      datasets.push({
        type: 'line',
        label: `end ${b}`,
        data: [{ x: b, y: Y_MIN }, { x: b, y: Y_MAX }],
        borderColor: '#000',
        borderWidth: 2,
        borderDash: [2, 5],
        pointRadius: 0,
        fill: false,
        showLine: true,
        order: 1,
      });
    });

    const tickFont = { family: FONT, size: 28 };
    const chart = new Chart(canvas, {
      type: 'scatter',
      data: { datasets },
      plugins: [overlayPlugin],
      options: {
        responsive: false,
        animation: false,
        devicePixelRatio: 1,
        events: [],
        layout: { padding: { left: 0, top: 6, right: 2, bottom: 0 } },
        plugins: { legend: { display: false }, tooltip: { enabled: false }, title: { display: false } },
        scales: {
          x: {
            type: 'linear',
            min: X_MIN,
            max: X_MAX,
            afterBuildTicks: (s: any) => { s.ticks = X_TICKS.map((v) => ({ value: v })); },
            afterFit: (s: any) => { s.height = 129; s.paddingLeft = 0; s.paddingRight = 0; },
            border: { display: true, color: '#000', width: 2 },
            grid: { display: true, drawOnChartArea: false, drawTicks: true, tickLength: 18, color: '#000', tickColor: '#000', tickWidth: 2, lineWidth: 2 },
            ticks: {
              font: tickFont, color: '#000', maxRotation: 0, minRotation: 0, padding: 19, autoSkip: false,
              callback: (v: any) => `${v} Mb`,
            },
          },
          y: {
            type: 'linear',
            min: Y_MIN,
            max: Y_MAX,
            afterBuildTicks: (s: any) => { s.ticks = Y_TICKS.map((v) => ({ value: v })); },
            afterFit: (s: any) => { s.width = 190; s.paddingTop = 0; s.paddingBottom = 0; },
            border: { display: true, color: '#000', width: 2 },
            grid: { display: true, drawOnChartArea: false, drawTicks: true, tickLength: 17, color: '#000', tickColor: '#000', tickWidth: 2, lineWidth: 2 },
            ticks: {
              font: tickFont, color: '#000', minRotation: 90, maxRotation: 90, crossAlign: 'center', padding: 11, autoSkip: false,
              callback: (v: any) => (v < 0 ? `\u2212${Math.abs(v)}` : `${v}`),
            },
          },
        },
      } as any,
    });
    return () => chart.destroy();
  }, []);

  return (
    <div style={{ position: 'absolute', left: 0, top: 0, width: 1150, height: 542, background: '#fff' }}>
      <canvas ref={canvasRef} width={1150} height={542} style={{ width: 1150, height: 542, display: 'block' }} />
    </div>
  );
}
